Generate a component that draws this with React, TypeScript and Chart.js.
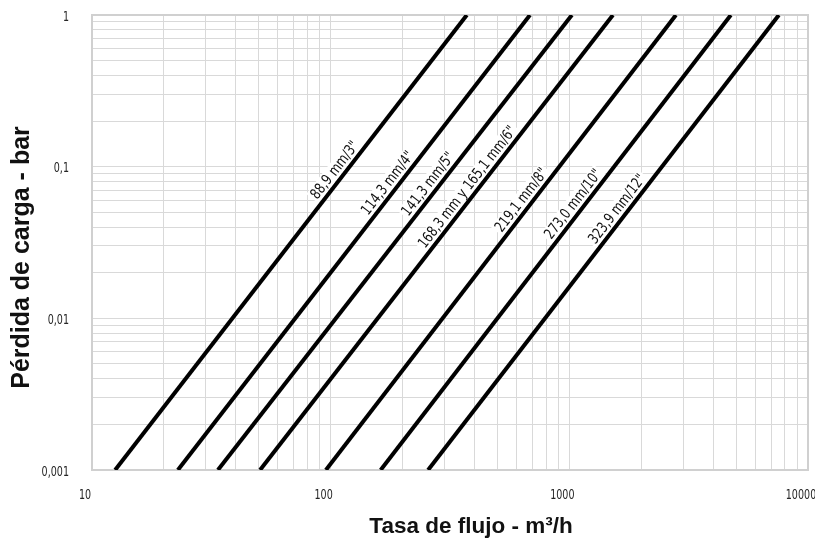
import React, { useEffect, useRef } from 'react';
import { Chart, registerables } from 'chart.js';
Chart.register(...registerables);

// ---- data ----
const pipeLabels = ['88,9 mm/3"', '114,3 mm/4"', '141,3 mm/5"', '168,3 mm y 165,1 mm/6"', '219,1 mm/8"', '273,0 mm/10"', '323,9 mm/12"'];
const flowAtMinLoss = [12.5, 22.9, 33.7, 50.6, 95.5, 162, 256];
const flowAtMaxLoss = [372, 684, 1025, 1523, 2797, 4750, 7550];
const lossRange = [0.001, 1];
const labelLoss = [0.0868, 0.0713, 0.0702, 0.0671, 0.0551, 0.0518, 0.0481];
const xDecades = [10, 100, 1000, 10000];
const xTickLabels = ['10', '100', '1000', '10000'];
const yDecades = [0.001, 0.01, 0.1, 1];
const yTickLabels = ['0,001', '0,01', '0,1', '1'];
const minorSteps = [1, 2, 3, 4, 5, 6, 7, 8, 9];
const xTitle = 'Tasa de flujo - m³/h';
const yTitle = 'Pérdida de carga - bar';

const TICK_FONT = '"Liberation Sans Narrow", "DejaVu Sans Condensed", "DejaVu Sans", sans-serif';
const TITLE_FONT = '"Liberation Sans", Arial, sans-serif';

function buildTicks(decades: number[]) {
  const out: { value: number; major: boolean }[] = [];
  for (let d = 0; d < decades.length; d++) {
    if (d === decades.length - 1) {
      out.push({ value: decades[d], major: true });
    } else {
      for (const s of minorSteps) out.push({ value: +(decades[d] * s).toPrecision(6), major: s === 1 });
    }
  }
  return out;
}

function squeezedText(ctx: any, text: string, x: number, y: number, squeeze: number) {
  ctx.save();
  ctx.translate(x, y);
  ctx.scale(squeeze, 1);
  ctx.fillText(text, 0, 0);
  ctx.restore();
}

const tickLabelPlugin = {
  id: 'tickLabels',
  afterDraw(chart: any) {
    const { ctx, scales, chartArea } = chart;
    ctx.save();
    ctx.fillStyle = '#262626';
    ctx.font = `14px ${TICK_FONT}`;
    ctx.textBaseline = 'middle';
    ctx.textAlign = 'center';
    for (let i = 0; i < xDecades.length; i++) {
      const px = scales.x.getPixelForValue(xDecades[i]);
      squeezedText(ctx, xTickLabels[i], px - 7, chartArea.bottom + 25, 0.76);
    }
    ctx.textAlign = 'right';
    for (let i = 0; i < yDecades.length; i++) {
      const py = scales.y.getPixelForValue(yDecades[i]);
      squeezedText(ctx, yTickLabels[i], chartArea.left - 23, py + 2, 0.76);
    }
    ctx.restore();
  },
};

const pipeLabelPlugin = {
  id: 'pipeLabels',
  afterDatasetsDraw(chart: any) {
    const { ctx, scales } = chart;
    const xs = scales.x, ys = scales.y;
    ctx.save();
    const fs = 15;
    const squeeze = 0.86;
    ctx.font = `${fs}px ${TICK_FONT}`;
    for (let i = 0; i < pipeLabels.length; i++) {
      const x0 = flowAtMinLoss[i], x1 = flowAtMaxLoss[i];
      const y0 = lossRange[0], y1 = lossRange[1];
      const px0 = xs.getPixelForValue(x0), py0 = ys.getPixelForValue(y0);
      const px1 = xs.getPixelForValue(x1), py1 = ys.getPixelForValue(y1);
      const ang = Math.atan2(py1 - py0, px1 - px0);
      const ly = labelLoss[i];
      const t = (Math.log10(ly) - Math.log10(y0)) / (Math.log10(y1) - Math.log10(y0));
      const lx = Math.pow(10, Math.log10(x0) + t * (Math.log10(x1) - Math.log10(x0)));
      const ax = xs.getPixelForValue(lx), ay = ys.getPixelForValue(ly);
      ctx.save();
      ctx.translate(ax, ay);
      ctx.rotate(ang);
      const w = ctx.measureText(pipeLabels[i]).width * squeeze;
      ctx.fillStyle = '#ffffff';
      ctx.fillRect(-w / 2 - 2, -2.5 - fs, w + 4, fs);
      ctx.scale(squeeze, 1);
      ctx.fillStyle = '#111111';
      ctx.textAlign = 'center';
      ctx.textBaseline = 'middle';
      ctx.fillText(pipeLabels[i], 0, -2.5 - fs / 2 + 1);
      ctx.restore();
    }
    ctx.restore();
  },
};

const framePlugin = {
  id: 'frame',
  beforeDatasetsDraw(chart: any) {
    const { ctx, chartArea } = chart;
    ctx.save();
    ctx.strokeStyle = '#d0d0d0';
    ctx.lineWidth = 2;
    ctx.strokeRect(chartArea.left, chartArea.top, chartArea.right - chartArea.left, chartArea.bottom - chartArea.top);
    ctx.restore();
  },
  afterDraw(chart: any) {
    const { ctx, chartArea } = chart;
    ctx.save();
    ctx.fillStyle = '#111111';
    ctx.textAlign = 'center';
    ctx.textBaseline = 'middle';
    ctx.font = `bold 22.5px ${TITLE_FONT}`;
    ctx.fillText(xTitle, (chartArea.left + chartArea.right) / 2 + 21, 527);
    ctx.font = `bold 25px ${TITLE_FONT}`;
    ctx.translate(22, (chartArea.top + chartArea.bottom) / 2 + 15);
    ctx.rotate(-Math.PI / 2);
    ctx.fillText(yTitle, 0, 0);
    ctx.restore();
  },
};

export default function App() {
  const ref = useRef<HTMLCanvasElement | null>(null);
  useEffect(() => {
    if (!ref.current) return;
    const datasets = pipeLabels.map((lab, i) => ({
      label: lab,
      data: [
        { x: flowAtMinLoss[i], y: lossRange[0] },
        { x: flowAtMaxLoss[i], y: lossRange[1] },
      ],
      borderColor: '#000000',
      backgroundColor: '#000000',
      borderWidth: 4,
      pointRadius: 0,
      fill: false,
      tension: 0,
    }));
    const chart = new Chart(ref.current, {
      type: 'line',
      data: { datasets },
      options: {
        responsive: false,
        animation: false,
        devicePixelRatio: 1,
        layout: { padding: { top: 15, right: 7, left: 0, bottom: 0 } },
        plugins: { legend: { display: false }, tooltip: { enabled: false } },
        scales: {
          x: {
            type: 'logarithmic',
            min: xDecades[0],
            max: xDecades[xDecades.length - 1],
            afterBuildTicks: (s: any) => { s.ticks = buildTicks(xDecades); },
            afterFit: (s: any) => { s.height = 74; s.paddingLeft = 0; s.paddingRight = 0; },
            grid: { color: '#d9d9d9', lineWidth: 1, drawTicks: false },
            border: { display: false },
            ticks: { display: false, autoSkip: false },
          },
          y: {
            type: 'logarithmic',
            min: yDecades[0],
            max: yDecades[yDecades.length - 1],
            afterBuildTicks: (s: any) => { s.ticks = buildTicks(yDecades); },
            afterFit: (s: any) => { s.width = 92; s.paddingTop = 0; s.paddingBottom = 0; },
            grid: { color: '#d9d9d9', lineWidth: 1, drawTicks: false },
            border: { display: false },
            ticks: { display: false, autoSkip: false },
          },
        },
      },
      plugins: [framePlugin, pipeLabelPlugin, tickLabelPlugin],
    } as any);
    return () => chart.destroy();
  }, []);
  return (
    <div style={{ position: 'fixed', left: 0, top: 0, width: 815, height: 544, background: '#fff' }}>
      <canvas ref={ref} width={815} height={544} style={{ display: 'block' }} />
    </div>
  );
}
